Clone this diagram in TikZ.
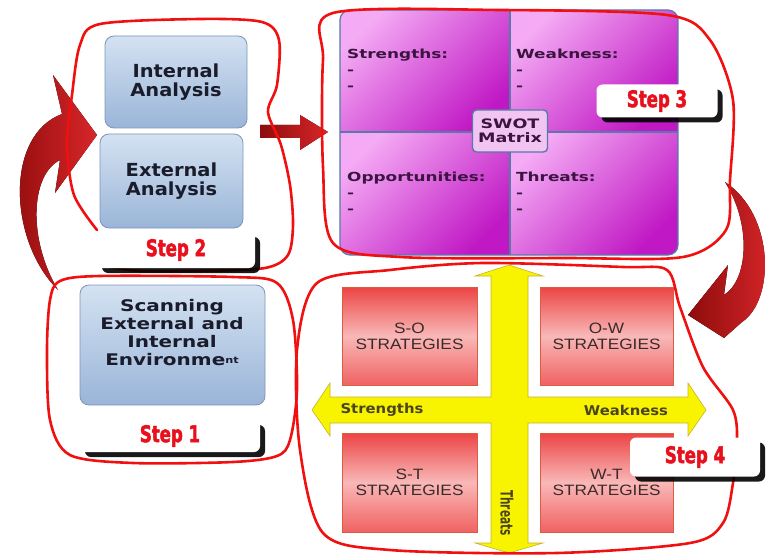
\documentclass[tikz,border=0pt]{standalone}
\usepackage{fontspec}
\usepackage{tikz}
\usetikzlibrary{shadows}
\newfontfamily\boxfont[FakeStretch=1.08]{DejaVu Sans}
\newfontfamily\envfont[FakeStretch=1.25]{DejaVu Sans}
\newfontfamily\swotfont[FakeStretch=1.35]{DejaVu Sans}
\newfontfamily\stratfont[FakeStretch=1.15]{Liberation Sans}
\newfontfamily\stepfont[FakeStretch=0.72, FakeBold=2]{DejaVu Sans}
\newfontfamily\axisfont[FakeStretch=1.1]{DejaVu Sans}
\newfontfamily\threatfont[FakeStretch=0.62]{DejaVu Sans}
\definecolor{loopred}{HTML}{F01010}
\definecolor{steptext}{HTML}{E8101C}
\definecolor{bluetop}{HTML}{D4E2F2}
\definecolor{bluebot}{HTML}{9AB5D8}
\definecolor{blueline}{HTML}{7C95B8}
\definecolor{navytext}{HTML}{1A1C2C}
\definecolor{pinklt}{HTML}{F4AAF4}
\definecolor{swotdark}{HTML}{C018C4}
\definecolor{swotline}{HTML}{5A78A8}
\definecolor{swottext}{HTML}{3C1440}
\definecolor{swotcell}{HTML}{F2C4F2}
\definecolor{stratlt}{HTML}{F9B8B8}
\definecolor{stratred}{HTML}{EC4444}
\definecolor{stratbot}{HTML}{F06262}
\definecolor{strattext}{HTML}{3A2A2A}
\definecolor{yellowfill}{HTML}{F8F400}
\definecolor{yellowline}{HTML}{C8B428}
\definecolor{axistext}{HTML}{4A4420}
\definecolor{arrowdark}{HTML}{8E0C0C}
\definecolor{arrowlight}{HTML}{D8262A}
\tikzset{
  bluebox/.style={draw=blueline, line width=0.8pt, rounded corners=9pt,
    top color=bluetop, bottom color=bluebot, text=navytext, align=center,
    font=\boxfont\bfseries\fontsize{18}{19}\selectfont},
  steplabel/.style={fill=white, rounded corners=6pt, inner sep=0pt,
    drop shadow={shadow xshift=5pt, shadow yshift=-5pt, fill=black, opacity=0.9},
    text=steptext, font=\stepfont\bfseries\fontsize{23}{23}\selectfont},
  quad/.style={top color=pinklt, bottom color=swotdark, shading angle=45},
  quadtext/.style={anchor=north west, align=left, inner sep=0pt, text=swottext,
    font=\swotfont\bfseries\fontsize{12.5}{16}\selectfont},
  stratbox/.style={draw=stratred!60!brown, line width=0.5pt, top color=stratred,
    bottom color=stratbot, middle color=stratlt, align=center, text=strattext,
    font=\stratfont\fontsize{15}{16}\selectfont},
  axislabel/.style={text=axistext, font=\axisfont\bfseries\fontsize{13.5}{14}\selectfont},
  handloop/.style={draw=loopred, line width=2.6pt, line cap=round, line join=round},
  bigarrow/.style={left color=arrowdark, right color=arrowlight}
}
\begin{document}
\begin{tikzpicture}[x=1pt, y=-1pt]
  \useasboundingbox (0,0) rectangle (766,559);

  % step 2: analysis boxes
  \node[bluebox, minimum width=142, minimum height=92] (internal) at (176,82) {Internal\\Analysis};
  \node[bluebox, minimum width=143, minimum height=94] (external) at (171.5,181) {External\\Analysis};

  % step 1: scanning box
  \node[bluebox, minimum width=185, minimum height=120] (scanning) at (172.5,345) {};
  \node[align=center, text=navytext, font=\envfont\bfseries\fontsize{16}{18}\selectfont] (scantext) at (172,333)
    {Scanning\\External and\\Internal\\Environme\raisebox{2pt}{\fontsize{9}{9}\selectfont nt}};

  % step 3: swot matrix
  \begin{scope}
    \clip[rounded corners=10pt] (340,10) rectangle (678,255);
    \shade[quad] (340,10) rectangle (510,132);
    \shade[quad] (510,10) rectangle (678,132);
    \shade[quad] (340,132) rectangle (510,255);
    \shade[quad] (510,132) rectangle (678,255);
  \end{scope}
  \draw[swotline, line width=1.2pt, rounded corners=10pt] (340,10) rectangle (678,255);
  \draw[swotline, line width=1.2pt] (510,10) -- (510,255) (340,132) -- (678,132);
  \node[quadtext] (strengths) at (347,49) {Strengths:\\-\\-};
  \node[quadtext] (weakness) at (516,49) {Weakness:\\-\\-};
  \node[quadtext] (opportunities) at (347,172) {Opportunities:\\-\\-};
  \node[quadtext] (threats) at (516,172) {Threats:\\-\\-};
  \node[draw=swotline, line width=1.4pt, fill=swotcell, rounded corners=4pt, align=center,
    minimum width=75, minimum height=42, inner sep=0pt, text=swottext,
    font=\swotfont\bfseries\fontsize{13}{14}\selectfont] (swot) at (510,131) {SWOT\\Matrix};

  % step 4: strategies
  \fill[yellowfill, draw=yellowline, line width=0.6pt]
    (509,265) -- (543,276) -- (528,276) -- (528,397) -- (688,397) -- (688,383) -- (706,410)
    -- (688,436) -- (688,423) -- (528,423) -- (528,543) -- (543,543) -- (509,553)
    -- (475,543) -- (491,543) -- (491,423) -- (330,423) -- (330,436) -- (312,410)
    -- (330,383) -- (330,397) -- (491,397) -- (491,276) -- (475,276) -- cycle;
  \node[stratbox, minimum width=135, minimum height=98] (so) at (409.5,336) {S-O\\STRATEGIES};
  \node[stratbox, minimum width=133, minimum height=98] (ow) at (606.5,336) {O-W\\STRATEGIES};
  \node[stratbox, minimum width=135, minimum height=99] (st) at (409.5,482.5) {S-T\\STRATEGIES};
  \node[stratbox, minimum width=133, minimum height=99] (wt) at (606.5,482.5) {W-T\\STRATEGIES};
  \node[axislabel] (axisS) at (382,410) {Strengths};
  \node[axislabel] (axisW) at (626,410) {Weakness};
  \node[axislabel, rotate=-90, font=\threatfont\bfseries\fontsize{17}{17}\selectfont] (axisT) at (507,513) {Threats};

  % arrows
  \fill[bigarrow] (260,125) -- (300,125) -- (300,115) -- (328,132) -- (300,150) -- (300,138) -- (260,138) -- cycle;
  \fill[bigarrow] (58,290) .. controls (8,240) and (5,135) .. (62,114) -- (53,75) -- (97,135)
    -- (55,193) -- (60,160) .. controls (30,175) and (28,240) .. (58,290) -- cycle;
  \fill[bigarrow] (725,182) .. controls (775,215) and (775,300) .. (742,322) -- (724,338)
    -- (688,315) -- (728,265) -- (724,295) .. controls (748,280) and (752,225) .. (725,182) -- cycle;

  % hand drawn loops
  \draw[handloop] plot[smooth] coordinates {(97,230) (74,195) (67,145) (72,95) (80,45) (100,24)
    (200,19) (262,22) (279,40) (277,85) (268,112) (281,145) (290,185) (293,225) (288,255)
    (265,268) (200,271) (140,271) (110,267)};
  \draw[handloop] plot[smooth cycle] coordinates {(60,281) (100,276) (233,277) (277,283)
    (293,320) (297,390) (290,440) (277,456) (233,462) (133,463) (70,455) (50,420) (47,350) (50,300)};
  \draw[handloop] plot[smooth cycle] coordinates {(333,13) (500,10) (667,15) (710,40) (733,100)
    (730,180) (726,230) (683,257) (567,258) (400,257) (333,243) (323,167) (323,60)};
  \draw[handloop] plot[smooth cycle] coordinates {(317,283) (390,270) (483,263) (623,267) (667,270)
    (680,307) (703,367) (733,410) (737,443) (733,483) (723,523) (690,543) (557,553) (390,550)
    (323,533) (300,450) (297,350)};

  % step labels
  \node[steplabel, minimum width=158, minimum height=36] (step2) at (176,250) {Step 2};
  \node[steplabel, minimum width=180, minimum height=32] (step1) at (170,436) {Step 1};
  \node[steplabel, minimum width=121, minimum height=33] (step3) at (657,101) {Step 3};
  \node[steplabel, minimum width=130, minimum height=39] (step4) at (695,457) {Step 4};
\end{tikzpicture}
\end{document}
